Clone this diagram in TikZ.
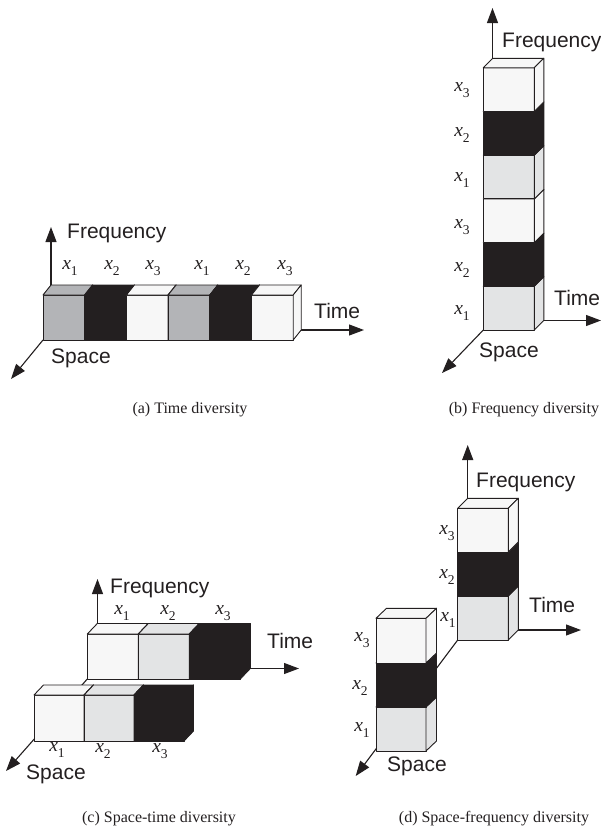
\documentclass[tikz,border=0pt]{standalone}
\usepackage{fontspec}
\setmainfont{Liberation Serif}
\setsansfont{Liberation Sans}
\usetikzlibrary{arrows.meta}
\definecolor{ink}{HTML}{231F20}
\definecolor{cgray}{HTML}{B3B4B7}
\definecolor{cblack}{HTML}{231F20}
\definecolor{cwhite}{HTML}{F7F7F7}
\definecolor{clight}{HTML}{E3E4E5}
% #1 x, #2 y top, #3 width, #4 height, #5 depth x, #6 depth y (upwards), #7 colour
\newcommand{\cubebox}[7]{%
  \filldraw[boxline,fill=#7] (#1,#2) rectangle ++(#3,#4);
  \filldraw[boxline,fill=#7] (#1,#2) -- ++(#5,-#6) -- ++(#3,0) -- ++(-#5,#6) -- cycle;
  \filldraw[boxline,fill=#7] (#1+#3,#2) -- ++(#5,-#6) -- ++(0,#4) -- ++(-#5,#6) -- cycle;
}
\newcommand{\xsub}[1]{\textit{x}\raisebox{-0.32em}{\fontsize{13.5}{13.5}\selectfont #1}}
\begin{document}
\begin{tikzpicture}[x=1pt,y=-1pt,
  boxline/.style={draw=ink,line width=0.9pt,line join=round},
  axis/.style={draw=ink,line width=1.1pt,-{Triangle[length=15pt,width=11pt]}},
  axlabel/.style={font=\fontsize{21}{24}\selectfont\sffamily,text=ink,inner sep=0pt,anchor=west},
  xlab/.style={font=\fontsize{19.5}{22}\selectfont,text=ink,inner sep=0pt},
  caption/.style={font=\fontsize{16}{19}\selectfont,text=ink,inner sep=0pt,anchor=base}]
\useasboundingbox (0,0) rectangle (601,828);

% ================= (a) Time diversity =================
\coordinate (aO) at (51,285);
\coordinate (aF) at (51,227);
\coordinate (aT0) at (301,330);
\coordinate (aT) at (364,330);
\coordinate (aS0) at (43,340);
\coordinate (aS) at (11,379);
\draw[axis] (aO) -- (aF);
\draw[axis] (aS0) -- (aS);
\draw[axis] (aT0) -- (aT);
\cubebox{43}{295}{41.7}{45}{8}{10}{cgray}
\cubebox{84.7}{295}{41.7}{45}{8}{10}{cblack}
\cubebox{126.4}{295}{41.7}{45}{8}{10}{cwhite}
\cubebox{168.1}{295}{41.7}{45}{8}{10}{cgray}
\cubebox{209.8}{295}{41.7}{45}{8}{10}{cblack}
\cubebox{251.5}{295}{41.7}{45}{8}{10}{cwhite}
\node[axlabel] (aFl) at (67,233) {Frequency};
\node[axlabel] (aTl) at (314,311) {Time};
\node[axlabel] (aSl) at (51,358) {Space};
\node[xlab] (ax1) at (70,268) {\xsub{1}};
\node[xlab] (ax2) at (112,268) {\xsub{2}};
\node[xlab] (ax3) at (153,268) {\xsub{3}};
\node[xlab] (ax4) at (202,268) {\xsub{1}};
\node[xlab] (ax5) at (243,268) {\xsub{2}};
\node[xlab] (ax6) at (285,268) {\xsub{3}};
\node[caption] (acap) at (190,413) {(a) Time diversity};

% ================= (b) Frequency diversity =================
\coordinate (bO) at (492.5,58.5);
\coordinate (bF) at (492.5,8);
\coordinate (bT0) at (543,320.5);
\coordinate (bT) at (601,320.5);
\coordinate (bS0) at (483.3,330);
\coordinate (bS) at (442,373);
\draw[axis] (bO) -- (bF);
\draw[axis] (bS0) -- (bS);
\draw[axis] (bT0) -- (bT);
\cubebox{483.3}{286.3}{51}{43.7}{9.5}{9.5}{clight}
\cubebox{483.3}{242.6}{51}{43.7}{9.5}{9.5}{cblack}
\cubebox{483.3}{198.9}{51}{43.7}{9.5}{9.5}{cwhite}
\cubebox{483.3}{155.2}{51}{43.7}{9.5}{9.5}{clight}
\cubebox{483.3}{111.5}{51}{43.7}{9.5}{9.5}{cblack}
\cubebox{483.3}{67.8}{51}{43.7}{9.5}{9.5}{cwhite}
\node[axlabel] (bFl) at (502,42) {Frequency};
\node[axlabel] (bTl) at (554,298) {Time};
\node[axlabel] (bSl) at (479,352) {Space};
\node[xlab] (bx6) at (462,90) {\xsub{3}};
\node[xlab] (bx5) at (462,135) {\xsub{2}};
\node[xlab] (bx4) at (462,180) {\xsub{1}};
\node[xlab] (bx3) at (462,227) {\xsub{3}};
\node[xlab] (bx2) at (462,270) {\xsub{2}};
\node[xlab] (bx1) at (462,313) {\xsub{1}};
\node[caption] (bcap) at (524,413) {(b) Frequency diversity};

% ================= (c) Space-time diversity =================
\coordinate (cO) at (97.5,623.5);
\coordinate (cF) at (97.5,579);
\coordinate (cT0) at (250,668.5);
\coordinate (cT) at (299,668.5);
\coordinate (cS0) at (87.3,679);
\coordinate (cS) at (6,771);
\draw[axis] (cO) -- (cF);
\draw[axis] (cS0) -- (cS);
\draw[axis] (cT0) -- (cT);
\cubebox{87.3}{634}{51}{45}{10}{10.5}{cwhite}
\cubebox{138.3}{634}{51}{45}{10}{10.5}{clight}
\cubebox{189.3}{634}{51}{45}{10}{10.5}{cblack}
\cubebox{34}{695}{50}{46}{9.5}{10}{cwhite}
\cubebox{84}{695}{50}{46}{9.5}{10}{clight}
\cubebox{134}{695}{50}{46}{9.5}{10}{cblack}
\node[axlabel] (cFl) at (110,588) {Frequency};
\node[axlabel] (cTl) at (267,641) {Time};
\node[axlabel] (cSl) at (26,774) {Space};
\node[xlab] (cx1) at (122,613) {\xsub{1}};
\node[xlab] (cx2) at (168,613) {\xsub{2}};
\node[xlab] (cx3) at (223,613) {\xsub{3}};
\node[xlab] (cy1) at (57,750) {\xsub{1}};
\node[xlab] (cy2) at (103,751) {\xsub{2}};
\node[xlab] (cy3) at (160,751) {\xsub{3}};
\node[caption] (ccap) at (159,822) {(c) Space-time diversity};

% ================= (d) Space-frequency diversity =================
\coordinate (dO) at (467.7,498.3);
\coordinate (dF) at (467.7,445);
\coordinate (dT0) at (518.3,630);
\coordinate (dT) at (581,630);
\coordinate (dS0) at (457.7,640);
\coordinate (dS) at (355.7,776);
\draw[axis] (dO) -- (dF);
\draw[axis] (dS0) -- (dS);
\draw[axis] (dT0) -- (dT);
\cubebox{457.7}{596}{50.6}{44}{10}{10}{clight}
\cubebox{457.7}{552}{50.6}{44}{10}{10}{cblack}
\cubebox{457.7}{508.3}{50.6}{43.7}{10}{10}{cwhite}
\cubebox{376}{707}{50}{44}{10.5}{10}{clight}
\cubebox{376}{663}{50}{44}{10.5}{10}{cblack}
\cubebox{376}{618.3}{50}{44.7}{10.5}{10}{cwhite}
\node[axlabel] (dFl) at (476,482) {Frequency};
\node[axlabel] (dTl) at (529,605) {Time};
\node[axlabel] (dSl) at (387,766) {Space};
\node[xlab] (dx3) at (447,533) {\xsub{3}};
\node[xlab] (dx2) at (447,577) {\xsub{2}};
\node[xlab] (dx1) at (448,620) {\xsub{1}};
\node[xlab] (dy3) at (362,640) {\xsub{3}};
\node[xlab] (dy2) at (360,688) {\xsub{2}};
\node[xlab] (dy1) at (362,730) {\xsub{1}};
\node[caption] (dcap) at (494,822) {(d) Space-frequency diversity};
\end{tikzpicture}
\end{document}
